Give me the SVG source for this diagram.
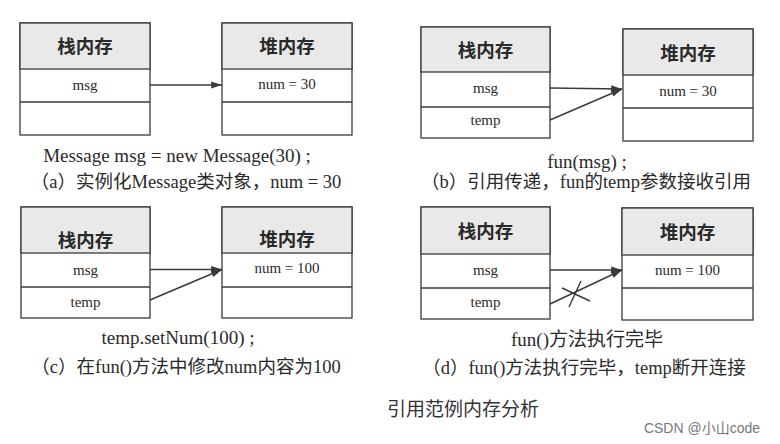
<svg xmlns="http://www.w3.org/2000/svg" width="780" height="444" viewBox="0 0 780 444">
<style>
.box{fill:#fff;stroke:#3a3a3a;stroke-width:1.3}
.hdr{fill:#e9e9e9;stroke:#3a3a3a;stroke-width:1.3}
.sep{stroke:#3a3a3a;stroke-width:1.3}
.ht{font-family:"Noto Sans CJK SC",sans-serif;font-weight:bold;font-size:18.5px;fill:#2a2a2a;text-anchor:middle}
.ct{font-family:"Liberation Serif","Noto Sans CJK SC",serif;font-size:15px;fill:#2a2a2a;text-anchor:middle}
.cap{font-family:"Liberation Serif","Noto Sans CJK SC",serif;font-size:19px;fill:#2a2a2a;text-anchor:middle}
.cap2{font-family:"Liberation Serif","Noto Sans CJK SC",serif;font-size:18.5px;fill:#2a2a2a;text-anchor:middle}
.con{stroke:#3a3a3a;stroke-width:1.4;fill:none}
</style>
<defs>
<marker id="ah" viewBox="0 0 12 10" refX="12" refY="5" markerWidth="12" markerHeight="9" markerUnits="userSpaceOnUse" orient="auto">
<path d="M0,1 L12,5 L0,9 z" fill="#3a3a3a"/>
</marker>
</defs>
<rect width="780" height="444" fill="#fff"/>

<g id="stack-a">
<rect class="box" x="20" y="23" width="130" height="112"/>
<rect class="hdr" x="20" y="23" width="130" height="46"/>
<line class="sep" x1="20" y1="102" x2="150" y2="102"/>
<text class="ht" x="85" y="53">栈内存</text>
<text class="ct" x="85" y="90">msg</text>
</g>
<g id="heap-a">
<rect class="box" x="222" y="23" width="130" height="112"/>
<rect class="hdr" x="222" y="23" width="130" height="46"/>
<line class="sep" x1="222" y1="102" x2="352" y2="102"/>
<text class="ht" x="287" y="53">堆内存</text>
<text class="ct" x="287" y="89">num = 30</text>
</g>
<g id="caption-a">
<text class="cap" x="177" y="162">Message msg = new Message(30) ;</text>
<text class="cap2" x="186" y="188">（a）实例化Message类对象，num = 30</text>
</g>

<g id="stack-b">
<rect class="box" x="421" y="27" width="129" height="111"/>
<rect class="hdr" x="421" y="27" width="129" height="45"/>
<line class="sep" x1="421" y1="107" x2="550" y2="107"/>
<text class="ht" x="485.5" y="57">栈内存</text>
<text class="ct" x="485.5" y="93">msg</text>
<text class="ct" x="485.5" y="125">temp</text>
</g>
<g id="heap-b">
<rect class="box" x="623" y="29" width="130" height="112"/>
<rect class="hdr" x="623" y="29" width="130" height="46"/>
<line class="sep" x1="623" y1="108" x2="753" y2="108"/>
<text class="ht" x="688" y="60">堆内存</text>
<text class="ct" x="688" y="96">num = 30</text>
</g>
<g id="caption-b">
<text class="cap" x="587" y="168">fun(msg) ;</text>
<text class="cap2" x="586" y="188">（b）引用传递，fun的temp参数接收引用</text>
</g>

<g id="stack-c">
<rect class="box" x="21" y="207" width="129" height="111"/>
<rect class="hdr" x="21" y="207" width="129" height="46"/>
<line class="sep" x1="21" y1="287" x2="150" y2="287"/>
<text class="ht" x="85.5" y="247">栈内存</text>
<text class="ct" x="85.5" y="275">msg</text>
<text class="ct" x="85.5" y="307">temp</text>
</g>
<g id="heap-c">
<rect class="box" x="222" y="207" width="130" height="111"/>
<rect class="hdr" x="222" y="207" width="130" height="46"/>
<line class="sep" x1="222" y1="287" x2="352" y2="287"/>
<text class="ht" x="287" y="246">堆内存</text>
<text class="ct" x="287" y="273">num = 100</text>
</g>
<g id="caption-c">
<text class="cap" x="178" y="344">temp.setNum(100) ;</text>
<text class="cap2" x="186" y="373">（c）在fun()方法中修改num内容为100</text>
</g>

<g id="stack-d">
<rect class="box" x="421" y="207" width="129" height="112"/>
<rect class="hdr" x="421" y="207" width="129" height="47"/>
<line class="sep" x1="421" y1="288" x2="550" y2="288"/>
<text class="ht" x="485.5" y="238">栈内存</text>
<text class="ct" x="485.5" y="275">msg</text>
<text class="ct" x="485.5" y="307">temp</text>
</g>
<g id="heap-d">
<rect class="box" x="622" y="208" width="131" height="112"/>
<rect class="hdr" x="622" y="208" width="131" height="47"/>
<line class="sep" x1="622" y1="288" x2="753" y2="288"/>
<text class="ht" x="687.5" y="239">堆内存</text>
<text class="ct" x="687.5" y="275">num = 100</text>
</g>
<g id="caption-d">
<text class="cap" x="587" y="346">fun()方法执行完毕</text>
<text class="cap2" x="584" y="374">（d）fun()方法执行完毕，temp断开连接</text>
</g>

<g id="connectors">
<line class="con" x1="150" y1="85" x2="222" y2="85" marker-end="url(#ah)"/>
<line class="con" x1="550" y1="88" x2="622" y2="89" marker-end="url(#ah)"/>
<line class="con" x1="550" y1="120" x2="622" y2="89" marker-end="url(#ah)"/>
<line class="con" x1="150" y1="269.5" x2="222" y2="269.5" marker-end="url(#ah)"/>
<line class="con" x1="150" y1="300" x2="222" y2="269.5" marker-end="url(#ah)"/>
<line class="con" x1="550" y1="270" x2="622" y2="270" marker-end="url(#ah)"/>
<line class="con" x1="550" y1="304" x2="622" y2="270" marker-end="url(#ah)"/>
<line class="con" x1="581" y1="281" x2="569" y2="307"/>
<line class="con" x1="562" y1="288" x2="590" y2="301"/>
</g>

<text x="463" y="416" font-family="'Noto Sans CJK SC',sans-serif" font-size="19" fill="#333" text-anchor="middle">引用范例内存分析</text>
<text x="702" y="433" font-family="'Liberation Sans','Noto Sans CJK SC',sans-serif" font-size="14" fill="#777" text-anchor="middle">CSDN @小山code</text>
</svg>
